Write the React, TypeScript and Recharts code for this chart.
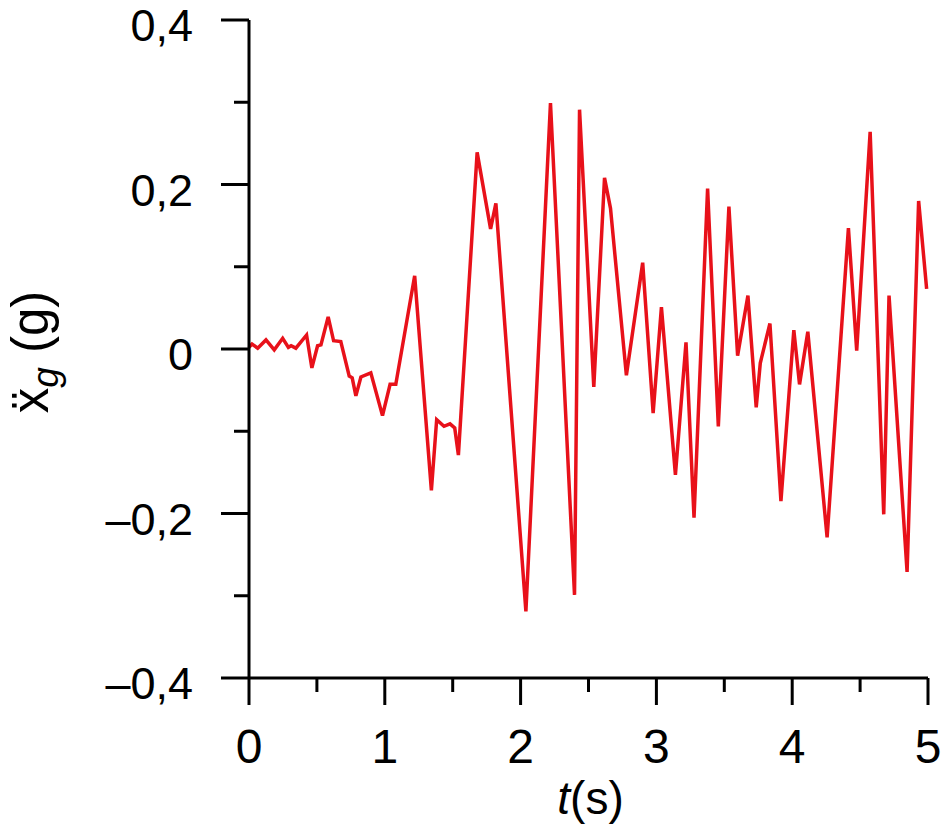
import React from "react";
import { LineChart, Line, XAxis, YAxis } from "recharts";

// ground acceleration record
const time = [
  0, 0.022, 0.064, 0.125, 0.186, 0.248, 0.29, 0.31, 0.345, 0.424, 0.463, 0.505, 0.53, 0.583, 0.623,
  0.676, 0.738, 0.76, 0.787, 0.824, 0.897, 0.983, 1.039, 1.081, 1.22, 1.343, 1.382, 1.436, 1.48,
  1.515, 1.542, 1.68, 1.779, 1.818, 2.039, 2.22, 2.397, 2.434, 2.539, 2.618, 2.662, 2.779, 2.899,
  2.976, 3.037, 3.14, 3.218, 3.277, 3.377, 3.456, 3.534, 3.598, 3.674, 3.735, 3.765, 3.836, 3.917,
  4.012, 4.054, 4.115, 4.257, 4.414, 4.475, 4.574, 4.674, 4.713, 4.846, 4.931, 4.99,
];
const accel = [
  0.002, 0.006, 0.001, 0.011, -0.001, 0.013, 0.002, 0.004, 0.001, 0.017, -0.023, 0.004, 0.005, 0.039,
  0.01, 0.009, -0.033, -0.035, -0.057, -0.034, -0.029, -0.081, -0.043, -0.043, 0.089, -0.172, -0.086,
  -0.094, -0.091, -0.096, -0.129, 0.239, 0.146, 0.177, -0.319, 0.299, -0.299, 0.291, -0.046, 0.208,
  0.171, -0.032, 0.105, -0.078, 0.051, -0.153, 0.008, -0.205, 0.195, -0.094, 0.173, -0.008, 0.065,
  -0.071, -0.017, 0.031, -0.185, 0.023, -0.043, 0.021, -0.229, 0.147, -0.002, 0.264, -0.201, 0.065,
  -0.271, 0.18, 0.073,
];

const xTicks = [0, 0.5, 1, 1.5, 2, 2.5, 3, 3.5, 4, 4.5, 5];
const yTicks = [-0.4, -0.3, -0.2, -0.1, 0, 0.1, 0.2, 0.3, 0.4];

const data = time.map((t, i) => ({ t, a: accel[i] }));

const FONT = "'Liberation Sans', Arial, Helvetica, sans-serif";

const fmtY = (v: number) => {
  if (Math.abs(v) < 1e-9) return "0";
  const s = Math.abs(v).toFixed(1).replace(".", ",");
  return v < 0 ? "\u2013" + s : s;
};

const XTick = (props: any) => {
  const { x, y, payload } = props;
  const major = Math.abs(payload.value - Math.round(payload.value)) < 1e-9;
  return (
    <g>
      <line x1={x} x2={x} y1={y} y2={y + (major ? 27 : 14)} stroke="#000" strokeWidth={3} />
      {major && (
        <text x={x} y={y + 85} textAnchor="middle" fontSize={48} fontFamily={FONT} fill="#000">
          {payload.value}
        </text>
      )}
    </g>
  );
};

const YTick = (props: any) => {
  const { x, y, payload } = props;
  const major = Math.round(payload.value * 10) % 2 === 0;
  return (
    <g>
      <line x1={x - (major ? 28 : 15)} x2={x} y1={y} y2={y} stroke="#000" strokeWidth={3} />
      {major && (
        <text x={x - 56} y={y + 21} textAnchor="end" fontSize={45} fontFamily={FONT} fill="#000">
          {fmtY(payload.value)}
        </text>
      )}
    </g>
  );
};

const YTitle = (props: any) => {
  const { viewBox } = props;
  const cy = viewBox.y + viewBox.height / 2 + 3;
  const cx = 48;
  return (
    <text
      x={cx}
      y={cy}
      transform={`rotate(-90, ${cx}, ${cy})`}
      textAnchor="middle"
      fontSize={51}
      fontFamily={FONT}
      fill="#000"
    >
      <tspan>ẍ</tspan>
      <tspan fontSize={37} fontStyle="italic" dy={10}>g</tspan>
      <tspan dy={-10}> (g)</tspan>
    </text>
  );
};

const XTitle = (props: any) => {
  const { viewBox } = props;
  const cx = viewBox.x + viewBox.width / 2 + 2;
  return (
    <text x={cx} y={814} textAnchor="middle" fontSize={46} fontFamily={FONT} fill="#000">
      <tspan fontStyle="italic">t</tspan>
      <tspan>(s)</tspan>
    </text>
  );
};

export default function App() {
  return (
    <div style={{ position: "absolute", left: 0, top: 0, background: "#fff" }}>
      <LineChart width={943} height={826} data={data} margin={{ top: 20, right: 15, left: 1, bottom: 0 }}>
        <XAxis
          dataKey="t"
          type="number"
          domain={[0, 5]}
          ticks={xTicks}
          interval={0}
          height={148}
          tickSize={0}
          tickMargin={0}
          tickLine={false}
          axisLine={{ stroke: "#000", strokeWidth: 3 }}
          tick={<XTick />}
          label={{ content: <XTitle /> }}
        />
        <YAxis
          type="number"
          domain={[-0.4, 0.4]}
          ticks={yTicks}
          interval={0}
          width={248}
          tickSize={0}
          tickMargin={0}
          tickLine={false}
          axisLine={{ stroke: "#000", strokeWidth: 3 }}
          tick={<YTick />}
          label={{ content: <YTitle /> }}
        />
        <Line
          type="linear"
          dataKey="a"
          stroke="#e8111a"
          strokeWidth={3.5}
          dot={false}
          activeDot={false}
          isAnimationActive={false}
        />
      </LineChart>
    </div>
  );
}
